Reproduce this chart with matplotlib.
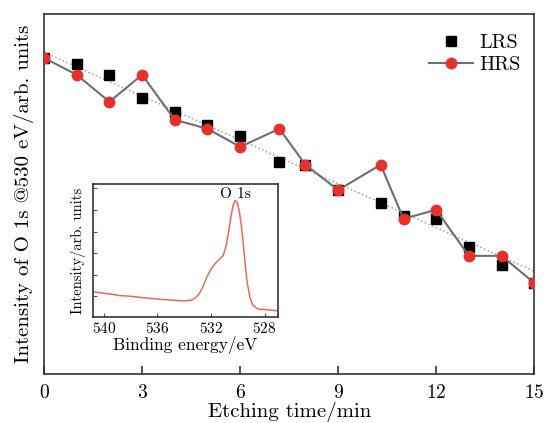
import numpy as np
import matplotlib
matplotlib.use("Agg")
import matplotlib.pyplot as plt

plt.rcParams['font.family'] = ['cmr10', 'DejaVu Serif']
plt.rcParams['mathtext.fontset'] = 'cm'
plt.rcParams['axes.formatter.use_mathtext'] = True

# main panel: O 1s intensity vs etching time (arb. units)
hrs_t = [0, 1, 2, 3, 4, 5, 6, 7.2, 8, 9, 10.3, 11, 12, 13, 14, 15]
hrs_i = [87.8, 83.1, 75.6, 83.1, 70.6, 68.1, 63.1, 68.1, 58.1, 51.1, 58.1, 43.1, 45.6, 32.8, 32.8, 25.3]
lrs_t = [0, 1, 2, 3, 4, 5, 6, 7.2, 8, 9, 10.3, 11, 12, 13, 14, 15]
lrs_i = [87.8, 86.1, 83.1, 76.7, 72.8, 69.2, 66.1, 58.9, 58.1, 51.1, 47.5, 43.9, 43.1, 35.3, 30.3, 25.3]

# inset: O 1s spectrum
be = [540.8, 540.2, 539.4, 538.8, 538.0, 537.0, 535.8, 534.8, 534.0, 533.5, 533.2, 532.9,
      532.6, 532.3, 532.0, 531.7, 531.4, 531.1, 530.9, 530.7, 530.5, 530.35, 530.2, 530.05,
      529.9, 529.75, 529.6, 529.45, 529.3, 529.1, 528.9, 528.6, 528.3, 527.9, 527.5, 527.0]
spec = [0.19, 0.18, 0.17, 0.16, 0.155, 0.143, 0.132, 0.125, 0.12, 0.125, 0.14, 0.17,
        0.225, 0.30, 0.36, 0.40, 0.43, 0.46, 0.52, 0.63, 0.76, 0.84, 0.875, 0.865,
        0.80, 0.70, 0.56, 0.40, 0.26, 0.15, 0.09, 0.065, 0.055, 0.055, 0.05, 0.045]

fig = plt.figure(figsize=(5.44, 4.23), dpi=100)
ax = fig.add_axes([0.081, 0.116, 0.901, 0.851])

# linear trend through all points
all_t = np.array(hrs_t + lrs_t, dtype=float)
all_i = np.array(hrs_i + lrs_i, dtype=float)
k, b = np.polyfit(all_t, all_i, 1)
tt = np.array([0, 15])
ax.plot(tt, k * tt + b, ls=':', color='#a0a0a0', lw=1.1, zorder=1)

ax.plot(lrs_t, lrs_i, 's', color='black', ms=6.5, ls='none', label='LRS', zorder=2)
ax.plot(hrs_t, hrs_i, '-o', color='#6e6e6e', mfc='#e8302a', mec='#e8302a', ms=7.5,
        lw=1.5, label='HRS', zorder=3)

ax.set_xlim(0, 15)
ax.set_ylim(0, 100)
ax.set_xticks([0, 3, 6, 9, 12, 15])
ax.set_yticks([])
ax.tick_params(axis='x', direction='in', length=6, width=1.2, labelsize=14, pad=7, color='#333333')
for s in ax.spines.values():
    s.set_linewidth(1.2)
    s.set_color('#333333')
ax.set_xlabel('Etching time/min', fontsize=15, labelpad=0)
ax.set_ylabel('Intensity of O 1s @530 eV/arb. units', fontsize=15, labelpad=7)
ax.legend(loc='upper right', frameon=False, fontsize=14.5, handlelength=2.2,
          handletextpad=0.3, borderaxespad=0.3, labelspacing=0.2, bbox_to_anchor=(1.0, 0.985))

ins = fig.add_axes([0.171, 0.251, 0.340, 0.314])
ins.plot(be, spec, color='#e86a55', lw=1.1)
ins.set_xlim(540.8, 527.0)
ins.set_ylim(0, 1)
ins.set_xticks([540, 536, 532, 528])
ins.set_yticks(np.linspace(0.155, 0.967, 6))
ins.set_yticklabels([])
ins.tick_params(direction='in', length=3, width=0.8, labelsize=11, pad=3, color='#555555')
for s in ins.spines.values():
    s.set_linewidth(1.2)
    s.set_color('#333333')
ins.set_xlabel('Binding energy/eV', fontsize=12.5, labelpad=0)
ins.set_ylabel('Intensity/arb. units', fontsize=10.5, labelpad=2)
ins.text(530.2, 0.925, 'O 1s', ha='center', va='center', fontsize=11)

fig.savefig('out.png', dpi=100)
